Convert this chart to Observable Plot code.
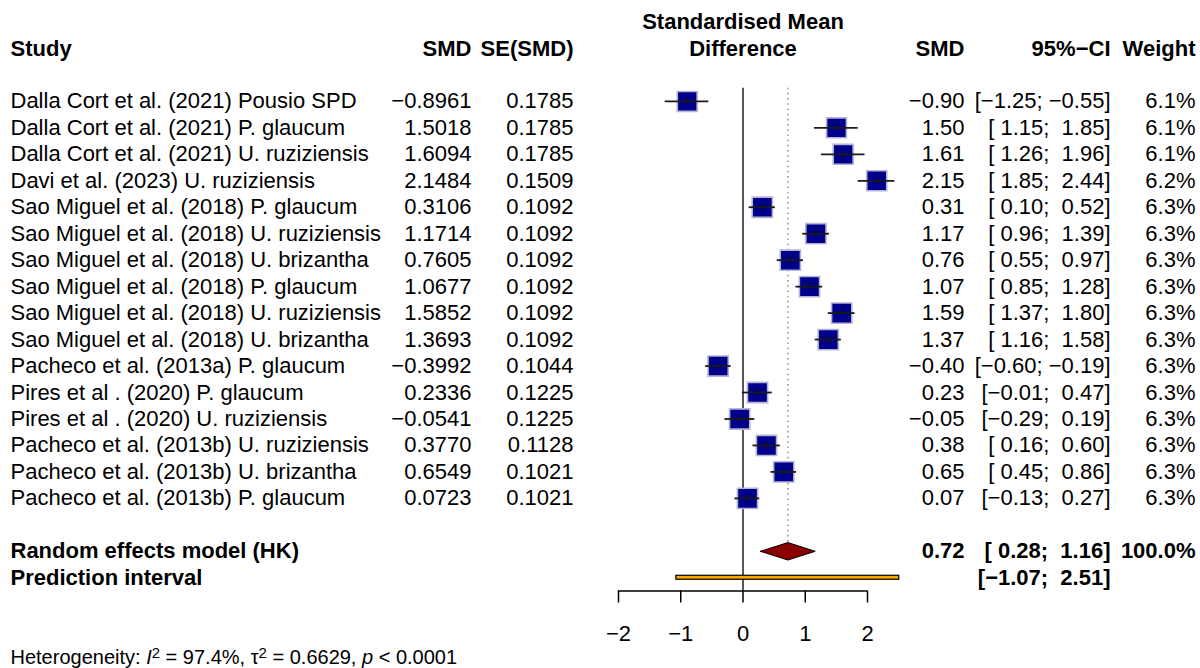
<!DOCTYPE html>
<html>
<head>
<meta charset="utf-8">
<script src="https://cdn.jsdelivr.net/npm/d3@7"></script>
<script src="https://cdn.jsdelivr.net/npm/@observablehq/plot@0.6"></script>
<style>
  body { margin: 0; background: #fff; }
  svg text { white-space: pre; }
</style>
</head>
<body>
<div id="chart"></div>
<script>
// ---- Data ----
const studies = [
  "Dalla Cort et al. (2021) Pousio SPD",
  "Dalla Cort et al. (2021) P. glaucum",
  "Dalla Cort et al. (2021) U. ruziziensis",
  "Davi et al. (2023) U. ruziziensis",
  "Sao Miguel et al. (2018) P. glaucum",
  "Sao Miguel et al. (2018) U. ruziziensis",
  "Sao Miguel et al. (2018) U. brizantha",
  "Sao Miguel et al. (2018) P. glaucum",
  "Sao Miguel et al. (2018) U. ruziziensis",
  "Sao Miguel et al. (2018) U. brizantha",
  "Pacheco et al. (2013a) P. glaucum",
  "Pires et al . (2020) P. glaucum",
  "Pires et al . (2020) U. ruziziensis",
  "Pacheco et al. (2013b) U. ruziziensis",
  "Pacheco et al. (2013b) U. brizantha",
  "Pacheco et al. (2013b) P. glaucum"
];
const smd = [-0.8961, 1.5018, 1.6094, 2.1484, 0.3106, 1.1714, 0.7605, 1.0677, 1.5852, 1.3693, -0.3992, 0.2336, -0.0541, 0.3770, 0.6549, 0.0723];
const seSmd = [0.1785, 0.1785, 0.1785, 0.1509, 0.1092, 0.1092, 0.1092, 0.1092, 0.1092, 0.1092, 0.1044, 0.1225, 0.1225, 0.1128, 0.1021, 0.1021];
const ciLower = [-1.25, 1.15, 1.26, 1.85, 0.10, 0.96, 0.55, 0.85, 1.37, 1.16, -0.60, -0.01, -0.29, 0.16, 0.45, -0.13];
const ciUpper = [-0.55, 1.85, 1.96, 2.44, 0.52, 1.39, 0.97, 1.28, 1.80, 1.58, -0.19, 0.47, 0.19, 0.60, 0.86, 0.27];
const weights = [6.1, 6.1, 6.1, 6.2, 6.3, 6.3, 6.3, 6.3, 6.3, 6.3, 6.3, 6.3, 6.3, 6.3, 6.3, 6.3];
const pooled = {label: "Random effects model (HK)", est: 0.72, lower: 0.28, upper: 1.16, weight: 100.0};
const prediction = {label: "Prediction interval", lower: -1.07, upper: 2.51};
const xTicks = [-2, -1, 0, 1, 2];
const titleLines = ["Standardised Mean", "Difference"];
const heteroParts = {I2: "97.4%", tau2: "0.6629", p: "< 0.0001"};

// ---- Helpers ----
const minus = s => s.replace(/-/g, "\u2212");
const pad = v => (v < 0 ? "" : " ") + minus(v.toFixed(2));
const ciText = (lo, hi) => `[${pad(lo)}; ${pad(hi)}]`;

const rows = studies.map((s, i) => ({
  row: i, study: s, smd: smd[i], se: seSmd[i], lo: ciLower[i], hi: ciUpper[i], w: weights[i]
}));
const pooledRow = studies.length + 1;   // one blank row after studies
const piRow = pooledRow + 1;
const headerRow = -2;
const axisRow = piRow + 0.5;
const heteroRow = piRow + 3;
const diamondHalf = 0.33;
const diamond = [
  {x: pooled.lower, y: pooledRow},
  {x: pooled.est, y: pooledRow - diamondHalf},
  {x: pooled.upper, y: pooledRow},
  {x: pooled.est, y: pooledRow + diamondHalf},
  {x: pooled.lower, y: pooledRow}
];

// column layout (pixel offsets from the left edge)
const col = {study: 10, smdL: 471, seL: 573, smdR: 964, ci: 1110, w: 1195};

const textCol = (data, dx, anchor, opts = {}) =>
  Plot.text(data, {frameAnchor: "left", dx, textAnchor: anchor, ...opts});

const chart = Plot.plot({
  width: 1200,
  height: 668,
  marginLeft: 0,
  marginRight: 0,
  marginTop: 21.5,
  marginBottom: 77.5,
  style: {fontFamily: "'Liberation Sans', Arial, sans-serif", fontSize: "22px", color: "#000", background: "#fff", overflow: "visible"},
  x: {domain: [-2, 2], range: [618, 867]},
  y: {domain: [-3, axisRow], range: [21.5, 590.5], axis: null},
  r: {type: "sqrt", domain: [0, 6.3], range: [0, 11.4]},
  marks: [
    // reference lines
    Plot.ruleX([0], {y1: -0.5, y2: axisRow, stroke: "#444", strokeWidth: 1.8}),
    Plot.ruleX([pooled.est], {y1: -0.5, y2: pooledRow, stroke: "#9a9a9a", strokeWidth: 1.6, strokeDasharray: "1.6,3.6"}),
    // study squares
    Plot.dot(rows, {x: "smd", y: "row", r: "w", symbol: "square", fill: "#00008B", stroke: "#b4b4d4", strokeWidth: 1.6}),
    // CIs
    Plot.ruleY(rows, {y: "row", x1: "lo", x2: "hi", stroke: "#1a1a1a", strokeWidth: 1.8}),
    Plot.ruleX(rows, {x: "smd", y1: d => d.row - 0.12, y2: d => d.row + 0.12, stroke: "#111", strokeWidth: 1.5}),
    // pooled diamond
    Plot.line(diamond, {x: "x", y: "y", fill: "#8B0000", stroke: "#000", strokeWidth: 1}),
    // prediction interval
    Plot.rect([prediction], {x1: "lower", x2: "upper", y1: () => piRow - 0.075, y2: () => piRow + 0.075, fill: "#FFA500", stroke: "#000", strokeWidth: 1.2}),
    // axis
    Plot.ruleY([axisRow], {x1: () => d3.min(xTicks), x2: () => d3.max(xTicks), stroke: "#000", strokeWidth: 1.5}),
    Plot.axisX({ticks: xTicks, tickFormat: d3.format("d"), tickSize: 12, tickPadding: 22, label: null, stroke: "#000", strokeWidth: 1.5, fontSize: 22, fill: "#000"}),
    // title
    Plot.text(titleLines, {x: () => 0, y: (d, i) => headerRow - 1 + i, fontWeight: "bold"}),
    // headers
    textCol(["Study"], col.study, "start", {y: () => headerRow, fontWeight: "bold"}),
    textCol(["SMD"], col.smdL, "end", {y: () => headerRow, fontWeight: "bold"}),
    textCol(["SE(SMD)"], col.seL, "end", {y: () => headerRow, fontWeight: "bold"}),
    textCol(["SMD"], col.smdR, "end", {y: () => headerRow, fontWeight: "bold"}),
    textCol(["95%\u2212CI"], col.ci, "end", {y: () => headerRow, fontWeight: "bold"}),
    textCol(["Weight"], col.w, "end", {y: () => headerRow, fontWeight: "bold"}),
    // study rows
    textCol(rows, col.study, "start", {y: "row", text: "study"}),
    textCol(rows, col.smdL, "end", {y: "row", text: d => minus(d.smd.toFixed(4))}),
    textCol(rows, col.seL, "end", {y: "row", text: d => d.se.toFixed(4)}),
    textCol(rows, col.smdR, "end", {y: "row", text: d => minus(d.smd.toFixed(2))}),
    textCol(rows, col.ci, "end", {y: "row", text: d => ciText(d.lo, d.hi)}),
    textCol(rows, col.w, "end", {y: "row", text: d => d.w.toFixed(1) + "%"}),
    // pooled rows
    textCol([pooled], col.study, "start", {y: () => pooledRow, text: "label", fontWeight: "bold"}),
    textCol([pooled], col.smdR, "end", {y: () => pooledRow, text: d => minus(d.est.toFixed(2)), fontWeight: "bold"}),
    textCol([pooled], col.ci, "end", {y: () => pooledRow, text: d => ciText(d.lower, d.upper), fontWeight: "bold"}),
    textCol([pooled], col.w, "end", {y: () => pooledRow, text: d => d.weight.toFixed(1) + "%", fontWeight: "bold"}),
    textCol([prediction], col.study, "start", {y: () => piRow, text: "label", fontWeight: "bold"}),
    textCol([prediction], col.ci, "end", {y: () => piRow, text: d => ciText(d.lower, d.upper), fontWeight: "bold"}),
    // heterogeneity (rich text filled in below)
    textCol([heteroParts], col.study, "start", {y: () => heteroRow, text: () => "Heterogeneity", fontSize: 20})
  ]
});

document.getElementById("chart").appendChild(chart);

// rich text for heterogeneity line
const het = d3.select(chart).selectAll("text").filter(function() { return this.textContent === "Heterogeneity"; });
het.text(null);
het.append("tspan").text("Heterogeneity: ");
het.append("tspan").attr("font-style", "italic").text("I");
het.append("tspan").attr("baseline-shift", "40%").attr("font-size", "15px").text("2");
het.append("tspan").text(` = ${heteroParts.I2}, \u03c4`);
het.append("tspan").attr("baseline-shift", "40%").attr("font-size", "15px").text("2");
het.append("tspan").text(` = ${heteroParts.tau2}, `);
het.append("tspan").attr("font-style", "italic").text("p");
het.append("tspan").text(` ${heteroParts.p}`);
</script>
</body>
</html>
